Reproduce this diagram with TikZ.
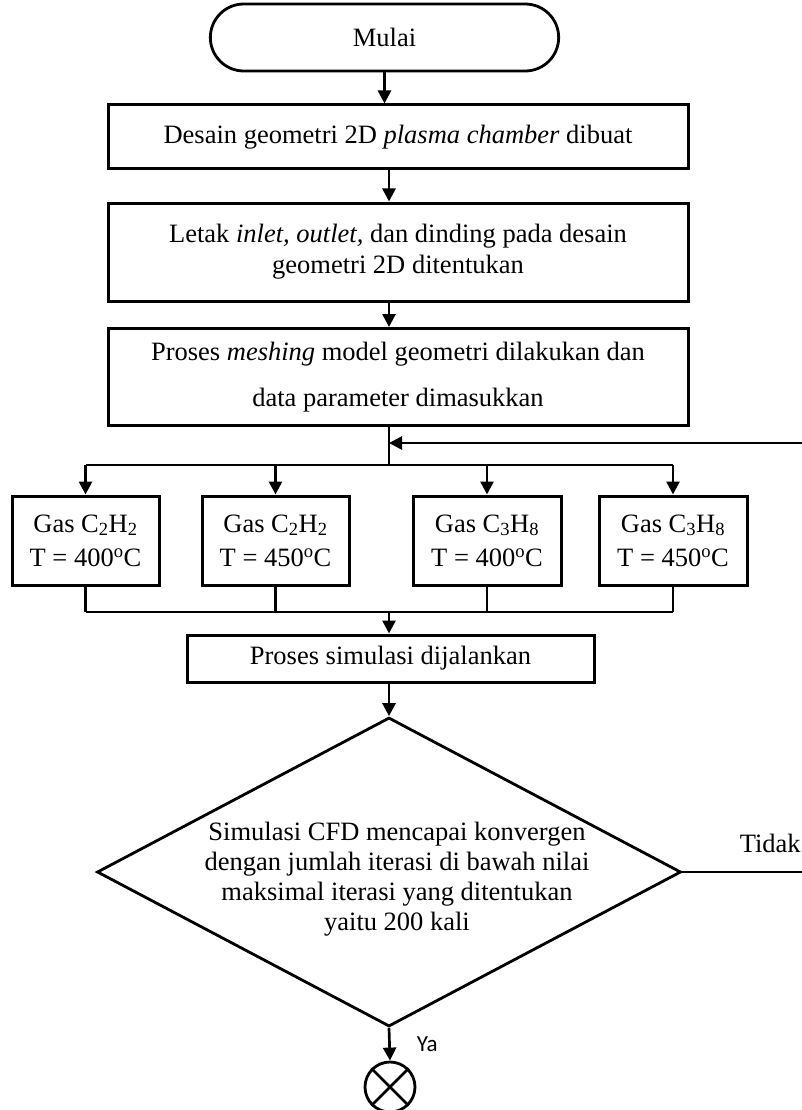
\documentclass[tikz,border=0pt]{standalone}
\usepackage{fontspec}
\setmainfont{Liberation Serif}
\newfontfamily\labelfont{Carlito}
\usetikzlibrary{arrows.meta,shapes.geometric,shapes.misc}

\begin{document}
\begin{tikzpicture}[x=1pt,y=-1pt,
    box/.style={draw,line width=3pt,align=center,inner sep=0pt},
    line/.style={line width=2.7pt},
    arrow/.style={line width=2.7pt,-{Triangle[length=13pt,width=13pt]}},
    txt/.style={font=\fontsize{26.5}{30}\selectfont}]
    \useasboundingbox (0,0) rectangle (802,1110);

    % Start
    \node[draw,rounded rectangle,line width=2.8pt,minimum width=355pt,minimum height=67pt,txt] (mulai) at (384.5,37.5) {Mulai};

    % Steps
    \node[box,txt,minimum width=580pt,minimum height=64pt] (desain) at (398,137) {Desain geometri 2D \textit{plasma chamber} dibuat};
    \node[box,font=\fontsize{26.5}{31}\selectfont,minimum width=580pt,minimum height=98pt] (letak) at (398,252) {Letak \textit{inlet, outlet,} dan dinding pada desain\\geometri 2D ditentukan};
    \node[box,font=\fontsize{26.5}{46}\selectfont,minimum width=580pt,minimum height=97pt] (meshing) at (398,377) {Proses \textit{meshing} model geometri dilakukan dan\\data parameter dimasukkan};

    % Gas variations
    \node[box,font=\fontsize{26.5}{34}\selectfont,minimum width=147pt,minimum height=89pt] (gasA) at (85.5,540.5) {Gas C\textsubscript{2}H\textsubscript{2}\\T = 400\textsuperscript{o}C};
    \node[box,font=\fontsize{26.5}{34}\selectfont,minimum width=147pt,minimum height=89pt] (gasB) at (275.5,540.5) {Gas C\textsubscript{2}H\textsubscript{2}\\T = 450\textsuperscript{o}C};
    \node[box,font=\fontsize{26.5}{34}\selectfont,minimum width=148pt,minimum height=89pt] (gasC) at (487,540.5) {Gas C\textsubscript{3}H\textsubscript{8}\\T = 400\textsuperscript{o}C};
    \node[box,font=\fontsize{26.5}{34}\selectfont,minimum width=148pt,minimum height=89pt] (gasD) at (673,540.5) {Gas C\textsubscript{3}H\textsubscript{8}\\T = 450\textsuperscript{o}C};

    \node[box,txt,minimum width=407pt,minimum height=47pt] (sim) at (390.5,658.5) {Proses simulasi dijalankan};

    % Decision
    \node[draw,diamond,line width=2.8pt,minimum width=584pt,minimum height=309pt,inner sep=0pt] (cek) at (389,872) {};
    \node[font=\fontsize{26.5}{30}\selectfont,align=center] (cektext) at (397,879) {Simulasi CFD mencapai konvergen\\dengan jumlah iterasi di bawah nilai\\maksimal iterasi yang ditentukan\\yaitu 200 kali};

    % End connector
    \node[draw,circle,line width=2.8pt,minimum size=50pt,inner sep=0pt] (selesai) at (390,1087) {};
    \draw[line] (selesai.north west) -- (selesai.south east) (selesai.north east) -- (selesai.south west);

    % Helper points
    \coordinate (axis) at (389,0);
    \coordinate (split) at (389,465);
    \coordinate (merge) at (389,612);
    \coordinate (loopin) at (802,443);
    \coordinate (noexit) at (802,872);

    % Arrows
    \draw[arrow] (mulai.south) -- (mulai.south |- desain.north);
    \draw[arrow] (desain.south -| axis) -- (letak.north -| axis);
    \draw[arrow] (letak.south -| axis) -- (meshing.north -| axis);
    \draw[line] (meshing.south -| axis) -- (split);
    \draw[arrow] (loopin) -- (loopin -| axis);
    \draw[line] (gasA |- split) -- (gasD |- split);
    \foreach \g in {gasA,gasB,gasC,gasD}{
        \draw[arrow] (\g |- split) -- (\g.north);
        \draw[line] (\g.south) -- (\g |- merge);
    }
    \draw[line] (gasA |- merge) -- (gasD |- merge);
    \draw[arrow] (merge) -- (sim.north -| merge);
    \draw[arrow] (sim.south -| cek.north) -- (cek.north);
    \draw[arrow] (cek.south) -- (selesai.north) node[midway,anchor=west,xshift=26pt,inner sep=0pt,font=\labelfont\fontsize{23}{26}\selectfont] {Ya};
    \draw[line] (cek.east) -- (noexit) node[pos=1,anchor=base east,yshift=20pt,inner sep=0pt,txt] {Tidak};
\end{tikzpicture}
\end{document}
